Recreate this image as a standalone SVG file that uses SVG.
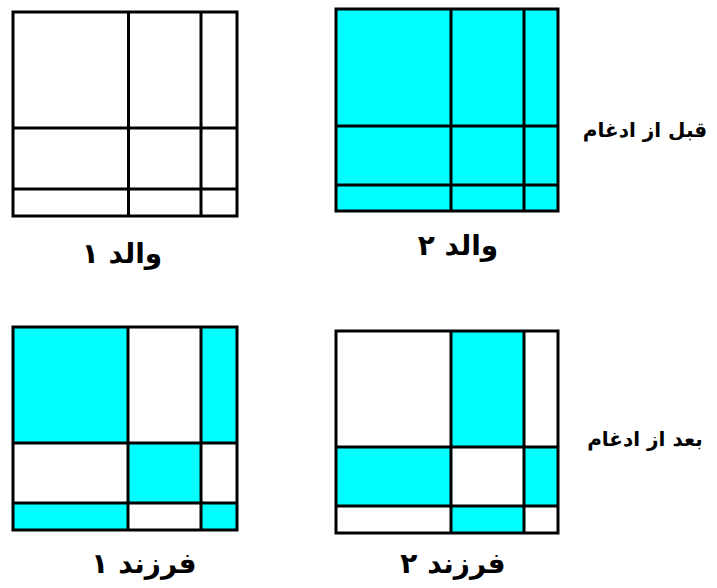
<svg xmlns="http://www.w3.org/2000/svg" width="717" height="588" viewBox="0 0 717 588">
<style>
.grid{fill:none;stroke:#000;stroke-width:3}
.c{fill:#00ffff}
.w{fill:#fff}
.lbl{font-family:"DejaVu Sans",sans-serif;font-weight:bold;font-size:28px;fill:#000;text-anchor:middle}
.side{font-family:"DejaVu Sans",sans-serif;font-weight:bold;font-size:20px;fill:#000;text-anchor:middle}
</style>
<rect width="717" height="588" fill="#fff"/>
<g id="parent1">
  <rect class="w" x="13" y="12" width="224" height="204"/>
  <rect class="grid" x="13" y="12" width="224" height="204"/>
  <path class="grid" d="M128.5 12V216M201 12V216M13 128H237M13 189H237"/>
  <text class="lbl" x="122" y="263" direction="rtl">والد ۱</text>
</g>
<g id="parent2">
  <rect class="c" x="336" y="9" width="222" height="202"/>
  <rect class="grid" x="336" y="9" width="222" height="202"/>
  <path class="grid" d="M451 9V211M524 9V211M336 126H558M336 185H558"/>
  <text class="lbl" x="458" y="255" direction="rtl">والد ۲</text>
</g>
<g id="child1">
  <rect class="w" x="13" y="327" width="224" height="203"/>
  <rect class="c" x="13" y="327" width="115" height="116"/>
  <rect class="c" x="201" y="327" width="36" height="116"/>
  <rect class="c" x="128" y="443" width="73" height="60"/>
  <rect class="c" x="13" y="503" width="115" height="27"/>
  <rect class="c" x="201" y="503" width="36" height="27"/>
  <rect class="grid" x="13" y="327" width="224" height="203"/>
  <path class="grid" d="M128 327V530M201 327V530M13 443H237M13 503H237"/>
  <text class="lbl" x="144" y="573" direction="rtl">فرزند ۱</text>
</g>
<g id="child2">
  <rect class="w" x="336" y="331" width="222" height="202"/>
  <rect class="c" x="451" y="331" width="73" height="116"/>
  <rect class="c" x="336" y="447" width="115" height="59"/>
  <rect class="c" x="524" y="447" width="34" height="59"/>
  <rect class="c" x="451" y="506" width="73" height="27"/>
  <rect class="grid" x="336" y="331" width="222" height="202"/>
  <path class="grid" d="M451 331V533M524 331V533M336 447H558M336 506H558"/>
  <text class="lbl" x="453" y="573" direction="rtl">فرزند ۲</text>
</g>
<g id="labels">
  <text class="side" x="645" y="137" direction="rtl">قبل از ادغام</text>
  <text class="side" x="645" y="446" direction="rtl">بعد از ادغام</text>
</g>
</svg>
